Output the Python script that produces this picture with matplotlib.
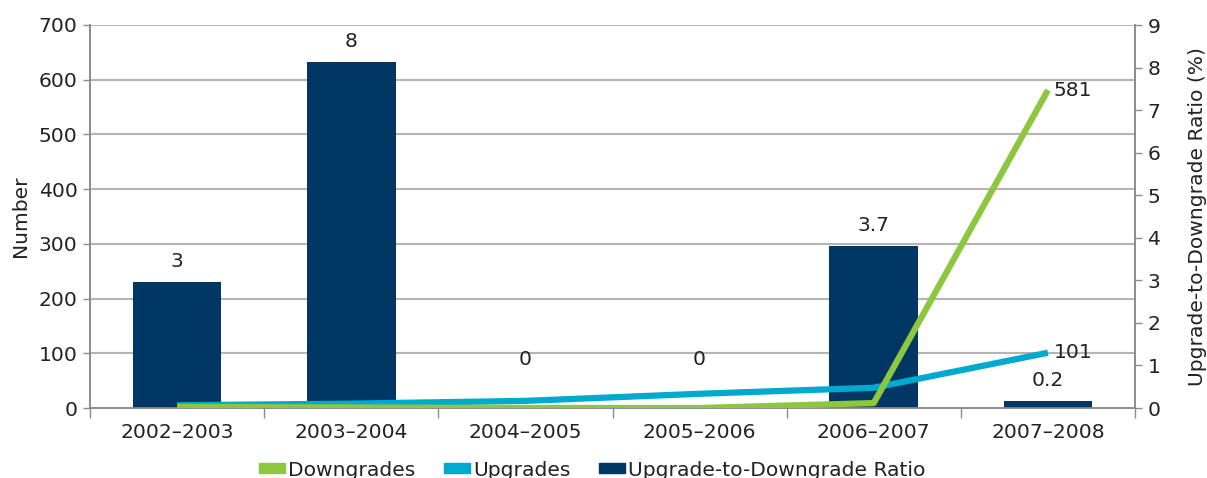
import matplotlib
matplotlib.use("Agg")
import matplotlib.pyplot as plt
from matplotlib.transforms import blended_transform_factory
from matplotlib.patches import Patch

categories = ["2002\u20132003", "2003\u20132004", "2004\u20132005",
              "2005\u20132006", "2006\u20132007", "2007\u20132008"]
downgrades = [2, 1, 0, 0, 9, 581]
upgrades = [5, 8, 13, 26, 37, 101]
ratio = [2.96, 8.13, 0, 0, 3.8, 0.17]
ratio_labels = ["3", "8", "0", "0", "3.7", "0.2"]

GREEN = "#8DC63F"
CYAN = "#00A9CE"
NAVY = "#003764"
TXT = "#222222"
SPINE = "#8C8C8C"

plt.rcParams["font.family"] = ["DejaVu Sans"]
fs = 14.6

fig = plt.figure(figsize=(12.07, 4.78), dpi=100)
ax = fig.add_axes([90 / 1207, 1 - 408 / 478, (1135 - 90) / 1207, (408 - 25) / 478])
ax2 = ax.twinx()
ax.set_zorder(ax2.get_zorder() + 1)
ax.patch.set_visible(False)

x = list(range(len(categories)))

# bars on right axis
ax2.bar(x, ratio, width=0.51, color=NAVY, zorder=3)
ax2.set_ylim(0, 9)
ax2.set_yticks(range(0, 10))

# gridlines (left-axis positions) drawn behind bars
left_ticks = list(range(0, 800, 100))
tr = blended_transform_factory(ax2.transAxes, ax.transData)
ax2.hlines(left_ticks[1:], 0, 1, transform=tr, colors="#B4B4B4", linewidth=1.5, zorder=1)

for xi, v, lab in zip(x, ratio, ratio_labels):
    off = 8 if v > 0 else 28
    ax2.annotate(lab, (xi, v), xytext=(0, off), textcoords="offset points",
                 ha="center", va="bottom", fontsize=fs, color=TXT)

# lines on left axis
ax.plot(x, downgrades, color=GREEN, linewidth=4.5, solid_capstyle="butt", zorder=5)
ax.plot(x, upgrades, color=CYAN, linewidth=4.5, solid_capstyle="butt", zorder=4)
ax.set_ylim(0, 700)
ax.set_yticks(left_ticks)
ax.set_xlim(-0.5, len(categories) - 0.5)
ax.annotate(str(downgrades[-1]), (x[-1], downgrades[-1]), xytext=(4, 0),
            textcoords="offset points", ha="left", va="center", fontsize=fs, color=TXT)
ax.annotate(str(upgrades[-1]), (x[-1], upgrades[-1]), xytext=(4, 0),
            textcoords="offset points", ha="left", va="center", fontsize=fs, color=TXT)

# x axis: labels at centers, ticks at boundaries
ax.set_xticks(x)
ax.set_xticklabels(categories, fontsize=fs, color=TXT)
ax.tick_params(axis="x", which="major", length=0, pad=11)
ax.set_xticks([i + 0.5 for i in range(-1, len(categories))], minor=True)
ax.tick_params(axis="x", which="minor", length=7, width=1, color=SPINE, direction="out")

ax.tick_params(axis="y", labelsize=fs, labelcolor=TXT, length=5, width=1, color=SPINE, pad=4)
ax2.tick_params(axis="y", labelsize=fs, labelcolor=TXT, length=5, width=1, color=SPINE, pad=4)
ax2.tick_params(axis="x", length=0)

for a in (ax, ax2):
    a.spines["top"].set_visible(False)
    for s in ("left", "right", "bottom"):
        a.spines[s].set_color(SPINE)
        a.spines[s].set_linewidth(1.2)

ax.set_ylabel("Number", fontsize=fs, color=TXT, labelpad=6)
ax2.set_ylabel("Upgrade-to-Downgrade Ratio (%)", fontsize=fs, color=TXT, labelpad=20)

handles = [Patch(color=GREEN), Patch(color=CYAN), Patch(color=NAVY)]
labels = ["Downgrades", "Upgrades", "Upgrade-to-Downgrade Ratio"]
fig.legend(handles, labels, loc="center", bbox_to_anchor=(592 / 1207, 1 - 470 / 478),
           ncol=3, frameon=False, fontsize=fs, handlelength=1.3, handleheight=0.4,
           handletextpad=0.15, columnspacing=1.4, labelcolor=TXT)

fig.savefig("out.png", dpi=100)
